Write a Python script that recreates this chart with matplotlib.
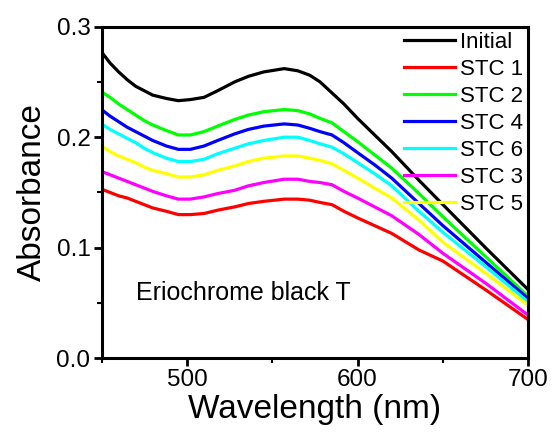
import matplotlib
matplotlib.use("Agg")
import matplotlib.pyplot as plt
from matplotlib.ticker import MultipleLocator, FormatStrFormatter

plt.rcParams['font.family'] = ['Liberation Sans', 'DejaVu Sans']

wavelength = [450, 455, 460, 465, 470, 475, 480, 488, 495, 502, 510, 518, 528, 536,
              545, 557, 565, 572, 578, 585, 592, 600, 610, 620, 636, 650, 675, 700]

# Absorbance of each spectrum
initial = [0.277, 0.267, 0.259, 0.252, 0.246, 0.242, 0.238, 0.235, 0.233, 0.234, 0.236, 0.242, 0.250, 0.255,
           0.259, 0.262, 0.260, 0.256, 0.250, 0.240, 0.230, 0.217, 0.202, 0.187, 0.161, 0.139, 0.100, 0.062]
stc1 = [0.153, 0.150, 0.147, 0.145, 0.142, 0.139, 0.136, 0.133, 0.130, 0.130, 0.131, 0.134, 0.137, 0.140,
        0.142, 0.144, 0.144, 0.143, 0.141, 0.139, 0.133, 0.127, 0.120, 0.113, 0.098, 0.088, 0.062, 0.035]
stc2 = [0.241, 0.236, 0.230, 0.225, 0.220, 0.215, 0.211, 0.206, 0.202, 0.202, 0.205, 0.210, 0.216, 0.220,
        0.223, 0.225, 0.224, 0.221, 0.217, 0.213, 0.205, 0.196, 0.184, 0.172, 0.149, 0.128, 0.092, 0.056]
stc4 = [0.225, 0.219, 0.214, 0.209, 0.205, 0.201, 0.197, 0.192, 0.189, 0.189, 0.192, 0.197, 0.203, 0.207,
        0.210, 0.212, 0.211, 0.208, 0.205, 0.202, 0.195, 0.186, 0.175, 0.163, 0.140, 0.120, 0.087, 0.054]
stc6 = [0.212, 0.207, 0.203, 0.199, 0.195, 0.190, 0.186, 0.181, 0.178, 0.178, 0.180, 0.185, 0.190, 0.194,
        0.197, 0.200, 0.200, 0.197, 0.194, 0.191, 0.185, 0.177, 0.167, 0.156, 0.133, 0.114, 0.083, 0.051]
stc3 = [0.169, 0.166, 0.163, 0.160, 0.157, 0.154, 0.151, 0.147, 0.144, 0.144, 0.146, 0.149, 0.152, 0.156,
        0.159, 0.162, 0.162, 0.160, 0.159, 0.157, 0.151, 0.145, 0.137, 0.129, 0.112, 0.095, 0.068, 0.039]
stc5 = [0.192, 0.187, 0.183, 0.180, 0.177, 0.173, 0.170, 0.167, 0.164, 0.164, 0.166, 0.170, 0.174, 0.178,
        0.181, 0.183, 0.183, 0.181, 0.179, 0.176, 0.170, 0.163, 0.154, 0.145, 0.125, 0.105, 0.077, 0.048]

series = [("Initial", initial, "black"),
          ("STC 1", stc1, "#ff0000"),
          ("STC 2", stc2, "#00ff00"),
          ("STC 4", stc4, "#0000ff"),
          ("STC 6", stc6, "#00ffff"),
          ("STC 3", stc3, "#ff00ff"),
          ("STC 5", stc5, "#ffff00")]

fig = plt.figure(figsize=(5.52, 4.43), dpi=100)
ax = fig.add_axes([0.184, 0.191, 0.773, 0.749])

for name, vals, col in series:
    ax.plot(wavelength, vals, color=col, lw=2.3, label=name, solid_joinstyle='round')

ax.set_xlim(450, 700)
ax.set_ylim(0, 0.3)
ax.xaxis.set_major_locator(MultipleLocator(100))
ax.xaxis.set_minor_locator(MultipleLocator(50))
ax.yaxis.set_major_locator(MultipleLocator(0.1))
ax.yaxis.set_minor_locator(MultipleLocator(0.05))
ax.yaxis.set_major_formatter(FormatStrFormatter('%.1f'))

for sp in ax.spines.values():
    sp.set_linewidth(2.2)
ax.tick_params(which='major', direction='out', length=6, width=2, labelsize=17.5, pad=2)
ax.tick_params(which='minor', direction='out', length=3.5, width=1.5)

ax.set_xlabel("Wavelength (nm)", fontsize=24, labelpad=2)
ax.set_ylabel("Absorbance", fontsize=24, labelpad=6)

ax.text(470, 0.059, "Eriochrome black T", fontsize=18, va='center', ha='left')

ax.legend(loc='upper right', bbox_to_anchor=(1.0, 1.0), frameon=False, fontsize=16,
          handlelength=2.3, handletextpad=0.2, labelspacing=0.27, borderaxespad=0.1,
          borderpad=0.15)

fig.savefig("out.png", dpi=100)
